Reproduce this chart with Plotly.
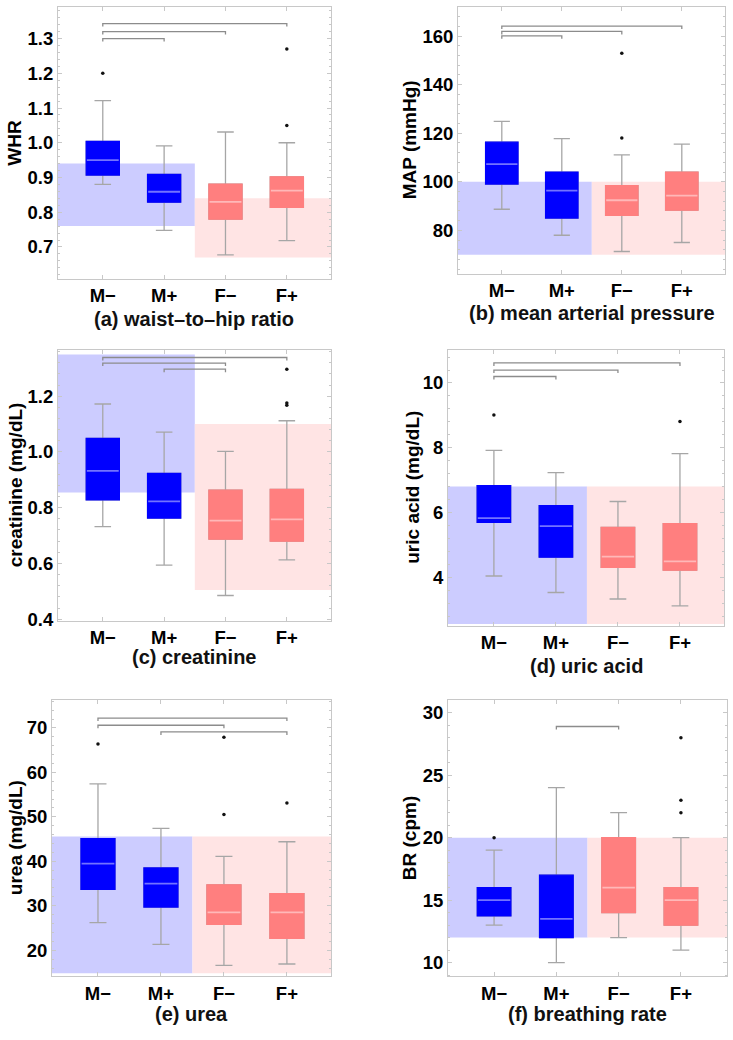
import plotly.graph_objects as go

W, H = 733, 1040

groups = ["M−", "M+", "F−", "F+"]
positions = [0, 1, 2, 3]

# (a) waist-to-hip ratio
whr_lo = [0.880, 0.748, 0.677, 0.718]
whr_q1 = [0.907, 0.829, 0.780, 0.814]
whr_med = [0.950, 0.859, 0.830, 0.862]
whr_q3 = [1.004, 0.909, 0.881, 0.902]
whr_hi = [1.121, 0.991, 1.031, 1.000]
whr_out_x = [0, 3, 3]
whr_out_y = [1.20, 1.05, 1.27]
whr_norm_m = [0.76, 0.94]
whr_norm_f = [0.67, 0.84]
whr_brackets = [(0, 3, 1.343), (0, 2, 1.320), (0, 1, 1.300)]
whr_ticks = [0.7, 0.8, 0.9, 1.0, 1.1, 1.2, 1.3]

# (b) mean arterial pressure
map_lo = [88.7, 78.0, 71.3, 75.0]
map_q1 = [99.1, 85.1, 86.2, 88.3]
map_med = [107.3, 96.4, 92.4, 94.3]
map_q3 = [116.3, 104.0, 98.4, 104.0]
map_hi = [124.9, 117.8, 111.1, 115.5]
map_out_x = [2, 2]
map_out_y = [118.0, 152.9]
map_norm_m = [70, 100]
map_norm_f = [70, 100]
map_brackets = [(0, 3, 164.1), (0, 2, 161.9), (0, 1, 160.1)]
map_ticks = [80, 100, 120, 140, 160]

# (c) creatinine
cr_lo = [0.732, 0.594, 0.485, 0.613]
cr_q1 = [0.828, 0.763, 0.687, 0.680]
cr_med = [0.932, 0.823, 0.754, 0.758]
cr_q3 = [1.049, 0.923, 0.863, 0.866]
cr_hi = [1.172, 1.071, 1.002, 1.112]
cr_out_x = [3, 3, 3]
cr_out_y = [1.168, 1.176, 1.297]
cr_norm_m = [0.855, 1.35]
cr_norm_f = [0.505, 1.10]
cr_brackets = [(0, 3, 1.339), (0, 2, 1.319), (1, 2, 1.297)]
cr_ticks = [0.4, 0.6, 0.8, 1.0, 1.2]

# (d) uric acid
ua_lo = [4.04, 3.53, 3.33, 3.12]
ua_q1 = [5.70, 4.62, 4.31, 4.22]
ua_med = [5.83, 5.58, 4.64, 4.49]
ua_q3 = [6.83, 6.21, 5.54, 5.66]
ua_hi = [7.92, 7.23, 6.34, 7.82]
ua_out_x = [0, 3]
ua_out_y = [9.01, 8.81]
ua_norm_m = [2.56, 6.80]
ua_norm_f = [2.56, 6.80]
ua_brackets = [(0, 3, 10.62), (0, 2, 10.40), (0, 1, 10.20)]
ua_ticks = [4, 6, 8, 10]

# (e) urea
ur_lo = [26.2, 21.3, 16.6, 16.9]
ur_q1 = [33.7, 29.7, 25.8, 22.7]
ur_med = [39.5, 35.0, 28.5, 28.5]
ur_q3 = [45.1, 38.5, 34.7, 32.7]
ur_hi = [57.4, 47.4, 41.1, 44.4]
ur_out_x = [0, 2, 2, 3]
ur_out_y = [66.4, 50.5, 67.9, 53.1]
ur_norm_m = [14.8, 45.6]
ur_norm_f = [14.8, 45.6]
ur_brackets = [(0, 3, 72.2), (0, 2, 70.6), (1, 3, 69.1)]
ur_ticks = [20, 30, 40, 50, 60, 70]

# (f) breathing rate
br_lo = [13.0, 10.0, 12.0, 11.0]
br_q1 = [13.74, 12.0, 14.0, 13.0]
br_med = [15.0, 13.5, 16.0, 15.0]
br_q3 = [16.0, 17.0, 20.0, 16.0]
br_hi = [19.0, 24.0, 22.0, 20.0]
br_out_x = [0, 3, 3, 3]
br_out_y = [20.0, 22.0, 23.0, 28.0]
br_norm_m = [12, 20]
br_norm_f = [12, 20]
br_brackets = [(1, 2, 28.9)]
br_ticks = [10, 15, 20, 25, 30]

y_titles = ["WHR", "MAP (mmHg)", "creatinine (mg/dL)", "uric acid (mg/dL)",
            "urea (mg/dL)", "BR (cpm)"]
sub_titles = ["(a) waist–to–hip ratio", "(b) mean arterial pressure",
              "(c) creatinine", "(d) uric acid", "(e) urea", "(f) breathing rate"]

stats = [
    (whr_lo, whr_q1, whr_med, whr_q3, whr_hi, whr_out_x, whr_out_y, whr_norm_m, whr_norm_f, whr_brackets, whr_ticks),
    (map_lo, map_q1, map_med, map_q3, map_hi, map_out_x, map_out_y, map_norm_m, map_norm_f, map_brackets, map_ticks),
    (cr_lo, cr_q1, cr_med, cr_q3, cr_hi, cr_out_x, cr_out_y, cr_norm_m, cr_norm_f, cr_brackets, cr_ticks),
    (ua_lo, ua_q1, ua_med, ua_q3, ua_hi, ua_out_x, ua_out_y, ua_norm_m, ua_norm_f, ua_brackets, ua_ticks),
    (ur_lo, ur_q1, ur_med, ur_q3, ur_hi, ur_out_x, ur_out_y, ur_norm_m, ur_norm_f, ur_brackets, ur_ticks),
    (br_lo, br_q1, br_med, br_q3, br_hi, br_out_x, br_out_y, br_norm_m, br_norm_f, br_brackets, br_ticks),
]

# layout geometry (pixels)
frames = [  # x0, x1, ytop, ybottom
    (58, 331, 7, 281),
    (458, 725, 7, 276),
    (58, 331, 353, 626),
    (448, 724, 353, 631),
    (52, 331, 706, 985),
    (448, 727, 706, 985),
]
x_ranges = [[-0.73, 3.72], [-0.73, 3.72], [-0.73, 3.72], [-0.74, 3.71], [-0.73, 3.70], [-0.74, 3.74]]
y_ranges = [[0.609, 1.391], [62.2, 172.0], [0.395, 1.366], [2.51, 11.02], [14.1, 76.3], [8.89, 31.03]]
y_decimals = [1, 0, 1, 0, 0, 0]
y_minor = [0.02, 4, 0.04, 0.4, 2, 1]
ytitle_x = [15, 409, 15, 413, 15, 409]
subtitle_y = [322, 316, 663, 672, 1023, 1023]

BLUE = "#0000FF"
PINK = "#FF7F7F"
BLUE_BG = "#CCCCFF"
PINK_BG = "#FFE4E4"
WHISK = "#A6A6A6"
BRACK = "#8C8C8C"
FRAME = "#C8C8C8"
BOXW = 0.54

fig = go.Figure()
shapes = []
annotations = []
font_family = "Liberation Sans, Arial, sans-serif"

for k, (lo, q1, med, q3, hi, ox, oy, nm, nf, brs, yt) in enumerate(stats):
    xa = "x" if k == 0 else f"x{k+1}"
    ya = "y" if k == 0 else f"y{k+1}"
    xr = x_ranges[k]
    yr = y_ranges[k]
    fx0, fx1, fyt, fyb = frames[k]

    # reference range shading
    shapes.append(dict(type="rect", xref=xa, yref=ya, x0=xr[0], x1=1.5, y0=nm[0], y1=nm[1],
                       fillcolor=BLUE_BG, line=dict(width=0), layer="below"))
    shapes.append(dict(type="rect", xref=xa, yref=ya, x0=1.5, x1=xr[1], y0=nf[0], y1=nf[1],
                       fillcolor=PINK_BG, line=dict(width=0), layer="below"))

    for idx, col in (([0, 1], BLUE), ([2, 3], PINK)):
        px = [positions[i] for i in idx]
        # whiskers (gray)
        fig.add_trace(go.Box(
            x=px, q1=[q1[i] for i in idx], median=[med[i] for i in idx], q3=[q3[i] for i in idx],
            lowerfence=[lo[i] for i in idx], upperfence=[hi[i] for i in idx],
            width=BOXW, whiskerwidth=0.5, boxpoints=False, fillcolor=col,
            line=dict(color=WHISK, width=1.3), xaxis=xa, yaxis=ya, showlegend=False,
            hoverinfo="skip"))
        # box body (solid colour)
        fig.add_trace(go.Box(
            x=px, q1=[q1[i] for i in idx], median=[med[i] for i in idx], q3=[q3[i] for i in idx],
            lowerfence=[q1[i] for i in idx], upperfence=[q3[i] for i in idx],
            width=BOXW, whiskerwidth=0, boxpoints=False, fillcolor=col,
            line=dict(color=col, width=1.3), xaxis=xa, yaxis=ya, showlegend=False,
            hoverinfo="skip"))
        # median line
        mx, my = [], []
        for i in idx:
            mx += [positions[i] - BOXW / 2 + 0.01, positions[i] + BOXW / 2 - 0.01, None]
            my += [med[i], med[i], None]
        fig.add_trace(go.Scatter(x=mx, y=my, mode="lines",
                                 line=dict(color="rgba(255,255,255,0.45)", width=1.8),
                                 xaxis=xa, yaxis=ya, showlegend=False, hoverinfo="skip"))

    # outliers
    fig.add_trace(go.Scatter(x=[positions[i] for i in ox], y=oy, mode="markers",
                             marker=dict(color="#111111", size=3.5),
                             xaxis=xa, yaxis=ya, showlegend=False, hoverinfo="skip"))

    # significance brackets
    drop = (yr[1] - yr[0]) / (fyb - fyt) * 3.0
    bx, by = [], []
    for a, b, h in brs:
        bx += [positions[a], positions[a], positions[b], positions[b], None]
        by += [h - drop, h, h, h - drop, None]
    fig.add_trace(go.Scatter(x=bx, y=by, mode="lines",
                             line=dict(color=BRACK, width=1.3),
                             xaxis=xa, yaxis=ya, showlegend=False, hoverinfo="skip"))

    dom_x = [fx0 / W, fx1 / W]
    dom_y = [1 - fyb / H, 1 - fyt / H]
    axis_common = dict(showline=True, linecolor=FRAME, linewidth=1, mirror="allticks",
                       ticks="inside", ticklen=4, tickcolor=FRAME, tickwidth=1,
                       showgrid=False, zeroline=False, fixedrange=True,
                       tickfont=dict(family=font_family, size=18.5, color="#000000"))
    xkey = "xaxis" if k == 0 else f"xaxis{k+1}"
    ykey = "yaxis" if k == 0 else f"yaxis{k+1}"
    fmt = "{:.%df}" % y_decimals[k]
    fig.update_layout({
        xkey: dict(domain=dom_x, range=xr, tickmode="array", tickvals=positions,
                   ticktext=[f"<b>{g}</b>" for g in groups], anchor=ya, **axis_common),
        ykey: dict(domain=dom_y, range=yr, tickmode="array", tickvals=yt,
                   ticktext=[f"<b>{fmt.format(v)}</b>" for v in yt], anchor=xa,
                   minor=dict(ticks="inside", ticklen=2, tickcolor=FRAME,
                              tickmode="linear", tick0=yt[0], dtick=y_minor[k], showgrid=False),
                   **axis_common),
    })

    annotations.append(dict(text=f"<b>{y_titles[k]}</b>", xref="paper", x=ytitle_x[k] / W,
                            yref=f"{ya} domain", y=0.5, textangle=-90, showarrow=False,
                            xanchor="center", yanchor="middle",
                            font=dict(family=font_family, size=19, color="#000000")))
    annotations.append(dict(text=f"<b>{sub_titles[k]}</b>", xref=f"{xa} domain", x=0.5,
                            yref="paper", y=1 - subtitle_y[k] / H, showarrow=False,
                            xanchor="center", yanchor="middle",
                            font=dict(family=font_family, size=20, color="#111111")))

fig.update_layout(width=W, height=H, margin=dict(l=0, r=0, t=0, b=0),
                  paper_bgcolor="white", plot_bgcolor="white",
                  shapes=shapes, annotations=annotations, boxmode="overlay",
                  showlegend=False, font=dict(family=font_family))

fig.write_html("out.html", config={"displayModeBar": False},
               post_script="document.body.style.margin='0';document.body.style.overflow='hidden';")
